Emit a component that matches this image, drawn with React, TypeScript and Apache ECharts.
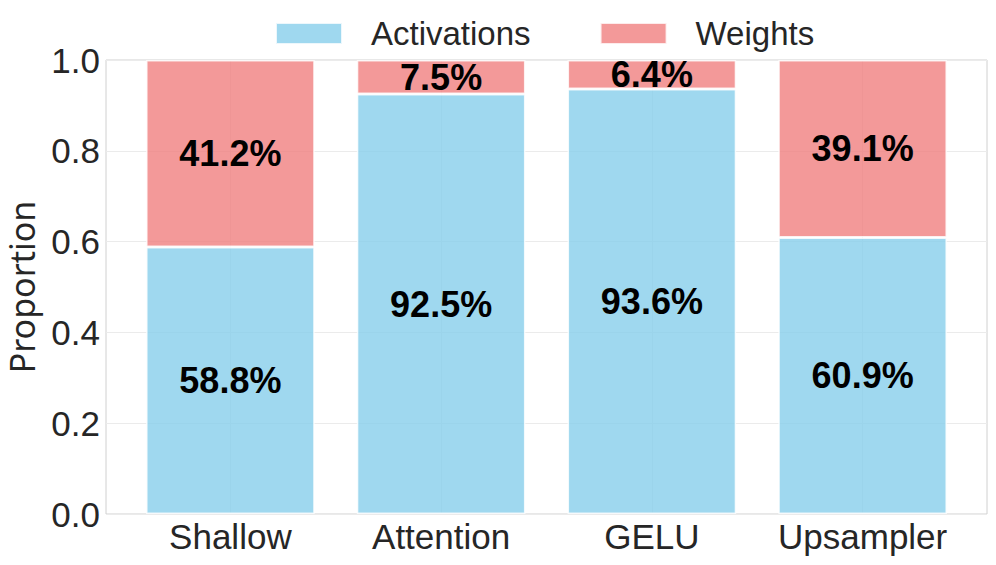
import React, { useEffect, useRef } from "react";
import * as echarts from "echarts";

const categories = ["Shallow", "Attention", "GELU", "Upsampler"];
const activations = [0.588, 0.925, 0.936, 0.609];
const weights = [0.412, 0.075, 0.064, 0.391];
const seriesNames = ["Activations", "Weights"];

const FONT = "'Liberation Sans', Arial, Helvetica, sans-serif";

export default function App() {
  const ref = useRef<HTMLDivElement>(null);
  useEffect(() => {
    if (!ref.current) return;
    document.body.style.margin = "0";
    const chart = echarts.init(ref.current, undefined, { renderer: "svg" });
    const label = {
      show: true,
      position: "inside",
      formatter: (p: any) => (p.value * 100).toFixed(1) + "%",
      fontFamily: FONT,
      fontWeight: "bold",
      fontSize: 36,
      color: "#000",
    };
    chart.setOption({
      animation: false,
      backgroundColor: "#fff",
      legend: {
        left: 270,
        top: 12,
        itemWidth: 66,
        itemHeight: 21,
        itemGap: 69,
        icon: "rect",
        data: seriesNames,
        textStyle: {
          fontFamily: FONT,
          fontSize: 33,
          color: "#262626",
          padding: [0, 0, 0, 24],
        },
      },
      grid: [
        {
          left: 125,
          right: 28,
          top: 60,
          bottom: 51,
          outerBoundsMode: "none",
          containLabel: false,
          show: false,
        },
        {
          left: 106,
          right: 9,
          top: 60,
          bottom: 51,
          outerBoundsMode: "none",
          containLabel: false,
          show: true,
          borderColor: "#d0d0d0",
          borderWidth: 1,
          backgroundColor: "transparent",
        },
      ],
      xAxis: [
        {
          type: "category",
          gridIndex: 0,
          data: categories,
          axisLine: { show: false },
          axisTick: { show: false, alignWithLabel: true },
          splitLine: {
            show: true,
            alignWithLabel: true,
            lineStyle: { color: "#ebebeb", width: 1 },
          },
          axisLabel: {
            interval: 0,
            fontFamily: FONT,
            fontSize: 35,
            color: "#262626",
            margin: 5,
          },
        },
        {
          type: "value",
          gridIndex: 1,
          min: 0,
          max: 1,
          show: false,
        },
      ],
      yAxis: [
        {
          type: "value",
          gridIndex: 0,
          min: 0,
          max: 1,
          show: false,
        },
        {
          type: "value",
          gridIndex: 1,
          min: 0,
          max: 1,
          interval: 0.2,
          name: "Proportion",
          nameLocation: "middle",
          nameGap: 67,
          nameTextStyle: {
            fontFamily: "'Noto Sans', sans-serif",
            fontSize: 34,
            color: "#262626",
          },
          axisLine: { show: false },
          axisTick: { show: false },
          splitLine: { show: true, lineStyle: { color: "#ebebeb", width: 1 } },
          axisLabel: {
            fontFamily: FONT,
            fontSize: 35,
            color: "#262626",
            margin: 6,
            formatter: (v: number) => v.toFixed(1),
          },
        },
      ],
      series: [
        {
          name: seriesNames[0],
          type: "bar",
          xAxisIndex: 0,
          yAxisIndex: 0,
          stack: "total",
          barWidth: "80%",
          data: activations,
          itemStyle: {
            color: "rgba(135,206,235,0.8)",
            borderColor: "rgba(255,255,255,0.8)",
            borderWidth: 1.5,
          },
          label,
        },
        {
          name: seriesNames[1],
          type: "bar",
          xAxisIndex: 0,
          yAxisIndex: 0,
          stack: "total",
          barWidth: "80%",
          data: weights,
          itemStyle: {
            color: "rgba(240,128,128,0.8)",
            borderColor: "rgba(255,255,255,0.8)",
            borderWidth: 1.5,
          },
          label,
        },
      ],
    });
    return () => chart.dispose();
  }, []);
  return <div ref={ref} style={{ width: 996, height: 565 }} />;
}
